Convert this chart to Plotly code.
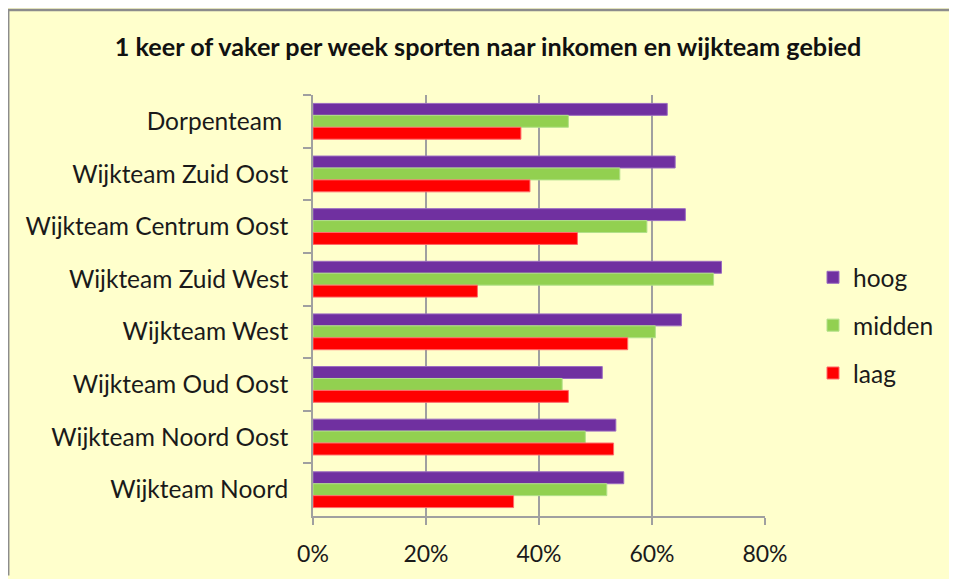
import plotly.graph_objects as go

categories = ["Dorpenteam ", "Wijkteam Zuid Oost", "Wijkteam Centrum Oost", "Wijkteam Zuid West",
              "Wijkteam West", "Wijkteam Oud Oost", "Wijkteam Noord Oost", "Wijkteam Noord"]
hoog = [0.627, 0.641, 0.659, 0.723, 0.652, 0.512, 0.536, 0.550]
midden = [0.452, 0.543, 0.591, 0.709, 0.606, 0.441, 0.482, 0.520]
laag = [0.368, 0.384, 0.468, 0.291, 0.557, 0.452, 0.532, 0.355]
series_names = ["hoog", "midden", "laag"]
colors = ["#7030A0", "#92D050", "#FF0000"]
edge_colors = ["#9A6BC0", "#B2E08A", "#FF6A6A"]
x_ticks = [0, 0.2, 0.4, 0.6, 0.8]
x_tick_labels = ["0%", "20%", "40%", "60%", "80%"]
title = "1 keer of vaker per week sporten naar inkomen en wijkteam gebied"

FONT = "Lato, Carlito, Calibri, sans-serif"

fig = go.Figure()
for name, vals, c, ec in zip(series_names, [hoog, midden, laag], colors, edge_colors):
    fig.add_trace(go.Bar(
        y=categories, x=vals, name=name, orientation="h",
        marker=dict(color=c, line=dict(color=ec, width=1)),
        legendgroup=name,
    ))

OFF = 8  # browser body margin
W, H = 957 - OFF, 579 - OFF
L, R, T, B = 313 - OFF, 765 - OFF, 95 - OFF, 519 - OFF

def px_x(p):
    return (p - OFF - L) / (R - L)

def px_y(p):
    return (B - (p - OFF)) / (B - T)

border = dict(color="#8C8C8C", width=2.5)
fig.add_shape(type="line", xref="paper", yref="paper", layer="above",
              x0=px_x(7), x1=px_x(957), y0=px_y(9.5), y1=px_y(9.5), line=border)
fig.add_shape(type="line", xref="paper", yref="paper", layer="above",
              x0=px_x(8.2), x1=px_x(8.2), y0=px_y(9), y1=px_y(579), line=border)

fig.update_layout(
    width=W, height=H,
    margin=dict(l=L, r=W - R, t=T, b=H - B, pad=0),
    paper_bgcolor="#FFFFCC", plot_bgcolor="rgba(0,0,0,0)",
    barmode="group", bargap=0.32, bargroupgap=0,
    font=dict(family=FONT, color="#1A1A1A", size=24.5),
    title=dict(text="<b>" + title + "</b>", x=(488 - OFF) / W, xanchor="center",
               y=1 - (47 - OFF) / H, yanchor="middle",
               font=dict(size=25.2, family=FONT, color="#111111")),
    legend=dict(x=px_x(813), xanchor="left", y=px_y(256), yanchor="top",
                bgcolor="rgba(0,0,0,0)", font=dict(size=24.5, family=FONT),
                tracegroupgap=13, itemclick=False),
    showlegend=True,
)
fig.update_xaxes(range=[0, 0.8], tickvals=x_ticks, ticktext=x_tick_labels,
                 tickfont=dict(size=23),
                 showgrid=True, gridcolor="#A0A0A0", gridwidth=1.5,
                 showline=True, linecolor="#A0A0A0", linewidth=1.5,
                 ticks="outside", ticklen=7, tickcolor="#A0A0A0", tickwidth=1.5,
                 zeroline=False, ticklabelstandoff=10)
fig.update_yaxes(categoryorder="array", categoryarray=categories, autorange="reversed",
                 showline=True, linecolor="#A0A0A0", linewidth=1.5,
                 ticks="outside", ticklen=8, tickcolor="#A0A0A0", tickwidth=1.5,
                 tickson="boundaries", showgrid=False, ticklabelstandoff=18)

fig.write_html("out.html")
